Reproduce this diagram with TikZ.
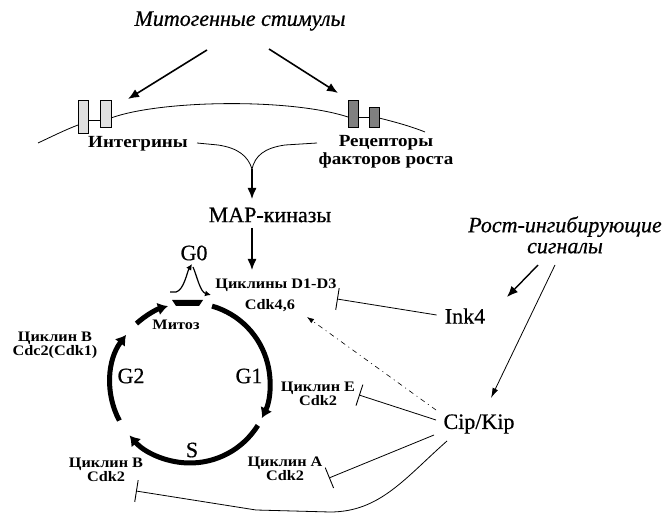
\documentclass[tikz,border=0pt]{standalone}
\usepackage{fontspec}
\setmainfont{Liberation Serif}
\newfontfamily\lblfont{Liberation Serif}[FakeStretch=1.12]
\newfontfamily\heavyfont{Liberation Serif}[FakeBold=0.6, ItalicFeatures={FakeBold=0.6}]
\usetikzlibrary{arrows.meta,calc}

\begin{document}
\begin{tikzpicture}[x=1pt,y=1pt,
  lbl/.style={font=\lblfont\fontsize{14.5}{14}\selectfont\bfseries, inner sep=0pt, align=center},
  memlbl/.style={font=\lblfont\fontsize{17}{18}\selectfont\bfseries, inner sep=0pt, align=center},
  big/.style={font=\heavyfont\fontsize{22}{24}\selectfont, inner sep=0pt},
  ital/.style={font=\heavyfont\fontsize{22}{21}\selectfont\itshape, inner sep=0pt, align=center},
  arr/.style={line width=1.6pt, -{Latex[length=11pt,width=9pt]}},
  thinarr/.style={line width=0.8pt, -{Latex[length=10pt,width=6pt]}},
  inhib/.style={line width=0.8pt, -{Bar[width=22pt,line width=0.9pt]}},
  phase/.style={line width=5pt, -{Latex[length=10pt,width=13pt]}},
  loopline/.style={line width=1.2pt, -{Latex[length=6pt,width=6pt]}},
  membrane/.style={line width=0.8pt},
  integrin/.style={draw, line width=0.8pt, fill=black!12},
  gfr/.style={draw, line width=0.8pt, fill=black!50},
]
\useasboundingbox (0,0) rectangle (670,-513);

% ---------- text nodes ----------
\node[ital] (title) at (240,-21) {Митогенные стимулы};
\node[memlbl] (integ) at (138,-144) {Интегрины};
\node[memlbl] (recep) at (386,-152) {Рецепторы\\факторов роста};
\node[big] (map) at (270,-215) {МАР-киназы};
\node[ital] (growth) at (565,-235) {Рост-ингибирующие\\сигналы};
\node[big] (ink4) at (465,-316) {Ink4};
\node[big] (cip) at (479,-424) {Cip/Kip};
\node[lbl] (cycD) at (276,-285) {Циклины D1-D3};
\node[lbl] (cdk46) at (270,-306) {Cdk4,6};
\node[big] (g0) at (194,-253) {G0};
\node[big] (g1) at (249,-376) {G1};
\node[big] (g2) at (131,-376) {G2};
\node[big] (s) at (192,-450) {S};
\node[lbl] (mitoz) at (176,-325) {Митоз};
\node[lbl] (cycB1) at (55,-345) {Циклин B\\Cdc2(Cdk1)};
\node[lbl] (cycE) at (318,-394) {Циклин E\\Cdk2};
\node[lbl] (cycA) at (285,-469) {Циклин A\\Cdk2};
\node[lbl] (cycB2) at (106,-470) {Циклин B\\Cdk2};

% ---------- cell membrane with receptors ----------
\draw[membrane] (38,-143) .. controls (55,-135) and (65,-130) .. (78,-125);
\draw[membrane] (88,-120) -- (100,-120);
\draw[membrane] (111,-118) .. controls (160,-100) and (290,-98) .. (348,-117);
\draw[membrane] (358,-117) -- (369,-117);
\draw[membrane] (379,-118) .. controls (395,-122) and (410,-126) .. (425,-132);
\draw[integrin] (78,-100) rectangle (88,-133);
\draw[integrin] (100,-100) rectangle (111,-127);
\draw[gfr] (348,-100) rectangle (358,-127);
\draw[gfr] (369,-107) rectangle (379,-127);

% ---------- mitogenic input ----------
\coordinate (tl) at (207,-50);
\coordinate (tr) at (269,-49);
\coordinate (integTip) at (128,-99);
\coordinate (recepTip) at (338,-93);
\draw[arr] (tl) -- (integTip);
\draw[arr] (tr) -- (recepTip);

\coordinate (integOut) at (197,-143);
\coordinate (recepOut) at (317,-143);
\coordinate (join) at (252,-169);
\draw[line width=0.8pt] (integOut) -- (218,-145) .. controls (238,-148) and (248,-156) .. (join);
\draw[line width=0.8pt] (recepOut) -- (285,-145) .. controls (264,-148) and (255,-156) .. (join);
\draw[arr, line width=1.3pt] (join) -- (252,-199);
\coordinate (mapOut) at (252,-228);
\coordinate (cycDIn) at (252,-270);
\draw[arr, line width=1.3pt] (mapOut) -- (cycDIn);

% ---------- cell cycle ----------
\coordinate (cc) at (190,-383);
\draw[phase] ($(cc)+(74:80)$) arc[start angle=74, end angle=-26, radius=80];
\draw[phase] ($(cc)+(-32:80)$) arc[start angle=-32, end angle=-139, radius=80];
\draw[phase] ($(cc)+(-152:80)$) arc[start angle=-152, end angle=-217, radius=80];
\draw[phase] ($(cc)+(132:80)$) arc[start angle=132, end angle=106, radius=80];
% mitosis bar
\fill (172,-300) -- (203,-300) -- (199,-306) -- (176,-306) -- cycle;
% G0 exit and re-entry
\draw[loopline] (170,-292) -- (176,-292) .. controls (184,-290) and (187,-272) .. (192,-264);
\draw[loopline] (193,-267) .. controls (197,-276) and (200,-292) .. (211,-295);

% ---------- growth-inhibitory branch ----------
\coordinate (gA) at (538,-265);
\coordinate (gB) at (555,-265);
\draw[arr, line width=1.4pt] (gA) -- (507,-297);
\draw[thinarr] (gB) -- (491,-398);

\draw[inhib] (ink4.west) ++(-8,1) -- (337,-299);
\draw[inhib] (436,-420) -- (359,-395);
\draw[inhib] (434,-435) -- (329,-478);
\draw[inhib] (447,-441) .. controls (405,-478) and (380,-512) .. (330,-512) -- (256,-510) -- (136,-491);
\draw[line width=0.6pt, dash pattern=on 5pt off 4pt on 1pt off 4pt, -{Latex[length=7pt,width=5pt]}] (436,-410) -- (307,-317);

\end{tikzpicture}
\end{document}
